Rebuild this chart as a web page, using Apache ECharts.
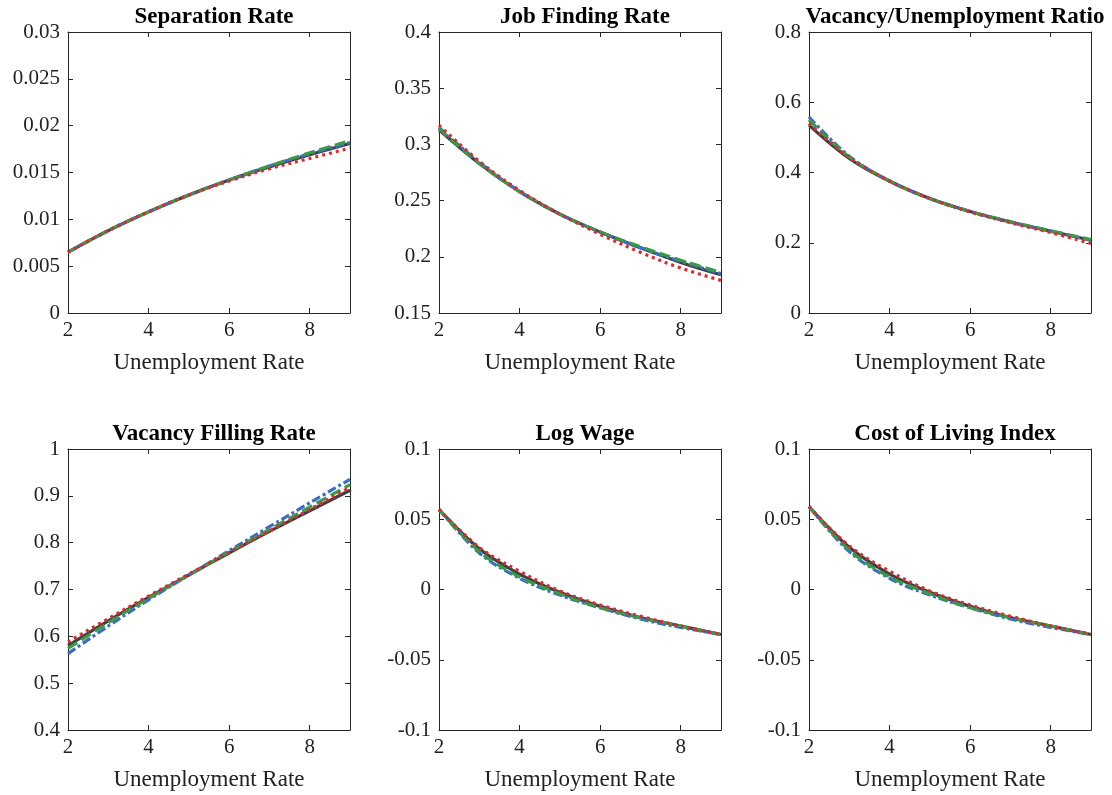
<!DOCTYPE html>
<html><head><meta charset="utf-8">
<script src="https://cdn.jsdelivr.net/npm/echarts@6/dist/echarts.min.js"></script>
<style>html,body{margin:0;padding:0;background:#fff}#c{width:1112px;height:795px}</style>
</head><body><div id="c"></div>
<script>
var xValues = [2, 3, 4, 5, 6, 7, 8, 9];
var panelTitles = ['Separation Rate', 'Job Finding Rate', 'Vacancy/Unemployment Ratio', 'Vacancy Filling Rate', 'Log Wage', 'Cost of Living Index'];
var xAxisName = 'Unemployment Rate';
var yMins = [0, 0.15, 0, 0.4, -0.1, -0.1];
var yMaxs = [0.03, 0.4, 0.8, 1, 0.1, 0.1];
var yIntervals = [0.005, 0.05, 0.2, 0.1, 0.05, 0.05];

// Separation Rate
var sepSolid = [0.0065, 0.0088, 0.0108, 0.0126, 0.0142, 0.0156, 0.0169, 0.0181];
var sepRed   = [0.0065, 0.0088, 0.0108, 0.0126, 0.0141, 0.0154, 0.0165, 0.0176];
var sepBlue  = [0.0065, 0.0088, 0.0108, 0.0126, 0.0142, 0.0157, 0.0170, 0.0182];
var sepGreen = [0.0065, 0.0088, 0.0108, 0.0126, 0.0142, 0.0157, 0.0171, 0.0184];
// Job Finding Rate
var jfSolid = [0.313, 0.283, 0.258, 0.238, 0.222, 0.208, 0.195, 0.184];
var jfRed   = [0.317, 0.285, 0.259, 0.238, 0.220, 0.204, 0.190, 0.179];
var jfBlue  = [0.315, 0.284, 0.258, 0.238, 0.222, 0.208, 0.196, 0.185];
var jfGreen = [0.314, 0.283, 0.258, 0.238, 0.222, 0.209, 0.197, 0.186];
// Vacancy/Unemployment Ratio
var vuSolid = [0.535, 0.440, 0.375, 0.326, 0.289, 0.259, 0.233, 0.207];
var vuRed   = [0.540, 0.442, 0.376, 0.326, 0.288, 0.257, 0.229, 0.198];
var vuBlue  = [0.558, 0.446, 0.376, 0.326, 0.289, 0.259, 0.233, 0.207];
var vuGreen = [0.550, 0.444, 0.376, 0.326, 0.289, 0.260, 0.234, 0.209];
// Vacancy Filling Rate
var vfSolid = [0.580, 0.633, 0.683, 0.731, 0.778, 0.824, 0.868, 0.912];
var vfRed   = [0.588, 0.638, 0.686, 0.733, 0.779, 0.825, 0.871, 0.918];
var vfBlue  = [0.563, 0.622, 0.678, 0.731, 0.783, 0.834, 0.885, 0.935];
var vfGreen = [0.574, 0.629, 0.681, 0.731, 0.780, 0.828, 0.876, 0.924];
// Log Wage
var lwSolid = [0.057, 0.029, 0.011, -0.002, -0.012, -0.020, -0.026, -0.032];
var lwRed   = [0.057, 0.030, 0.013, -0.001, -0.011, -0.019, -0.026, -0.032];
var lwBlue  = [0.057, 0.026, 0.008, -0.004, -0.013, -0.021, -0.027, -0.032];
var lwGreen = [0.057, 0.027, 0.009, -0.003, -0.013, -0.020, -0.026, -0.032];
// Cost of Living Index
var colSolid = [0.059, 0.030, 0.011, -0.002, -0.012, -0.020, -0.026, -0.032];
var colRed   = [0.059, 0.031, 0.013, -0.001, -0.011, -0.019, -0.026, -0.032];
var colBlue  = [0.059, 0.027, 0.008, -0.004, -0.013, -0.021, -0.027, -0.032];
var colGreen = [0.059, 0.028, 0.009, -0.003, -0.013, -0.020, -0.026, -0.032];

var panelData = [
  [sepSolid, sepBlue, sepGreen, sepRed],
  [jfSolid, jfBlue, jfGreen, jfRed],
  [vuSolid, vuBlue, vuGreen, vuRed],
  [vfSolid, vfBlue, vfGreen, vfRed],
  [lwSolid, lwBlue, lwGreen, lwRed],
  [colSolid, colBlue, colGreen, colRed]
];

var styles = [
  {color: '#404040', type: 'solid'},
  {color: '#3a6ec6', type: [9, 3, 3, 3]},
  {color: '#3a9a4a', type: [11, 5]},
  {color: '#dd2a2e', type: [3, 4]}
];

var FONT = 'Liberation Serif';
var lefts = [68, 439, 809];
var tops = [32, 449];
var W = 282, H = 281;
var axisCol = '#262626';

var grids = [], xAxes = [], yAxes = [], series = [], titles = [];
for (var p = 0; p < 6; p++) {
  var col = p % 3, row = Math.floor(p / 3);
  grids.push({left: lefts[col], top: tops[row], width: W, height: H, show: false, containLabel: false});
  titles.push({
    text: panelTitles[p], left: lefts[col] + W / 2, top: tops[row] - 31, textAlign: 'center',
    textStyle: {fontFamily: FONT, fontWeight: 'bold', fontSize: 23, color: '#000'}
  });
  var lineS = {show: true, onZero: false, lineStyle: {color: axisCol, width: 1}};
  var tickS = {show: true, inside: true, length: 5, lineStyle: {color: axisCol, width: 1}};
  xAxes.push({
    type: 'value', gridIndex: p, min: 2, max: 9, interval: 2, position: 'bottom',
    name: xAxisName, nameLocation: 'middle', nameGap: 38,
    nameTextStyle: {fontFamily: FONT, fontSize: 23, color: '#222'},
    axisLine: lineS, axisTick: tickS, splitLine: {show: false},
    axisLabel: {fontFamily: FONT, fontSize: 21, color: '#222', margin: 7,
      formatter: function (v) { return v === 9 ? '' : String(v); }}
  });
  xAxes.push({
    type: 'value', gridIndex: p, min: 2, max: 9, interval: 2, position: 'top',
    axisLine: lineS, axisTick: tickS, splitLine: {show: false}, axisLabel: {show: false}
  });
  yAxes.push({
    type: 'value', gridIndex: p, min: yMins[p], max: yMaxs[p], interval: yIntervals[p], position: 'left',
    axisLine: lineS, axisTick: tickS, splitLine: {show: false},
    axisLabel: {fontFamily: FONT, fontSize: 21, color: '#222', margin: 8}
  });
  yAxes.push({
    type: 'value', gridIndex: p, min: yMins[p], max: yMaxs[p], interval: yIntervals[p], position: 'right',
    axisLine: lineS, axisTick: tickS, splitLine: {show: false}, axisLabel: {show: false}
  });
  for (var s = 0; s < 4; s++) {
    var arr = panelData[p][s];
    series.push({
      type: 'line', xAxisIndex: 2 * p, yAxisIndex: 2 * p, showSymbol: false, symbol: 'none',
      smooth: 0.35, silent: true, animation: false,
      data: xValues.map(function (x, i) { return [x, arr[i]]; }),
      lineStyle: {color: styles[s].color, type: styles[s].type, width: 3.2}
    });
  }
}

var chart = echarts.init(document.getElementById('c'), null, {renderer: 'canvas'});
chart.setOption({
  backgroundColor: '#fff', animation: false,
  title: titles, grid: grids, xAxis: xAxes, yAxis: yAxes, series: series
});
</script></body></html>
